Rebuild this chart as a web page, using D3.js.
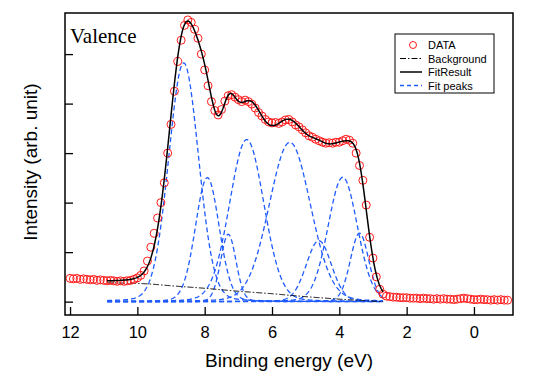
<!DOCTYPE html>
<html>
<head>
<meta charset="utf-8">
<script src="https://cdn.jsdelivr.net/npm/d3@7"></script>
<style>
  body { margin: 0; background: #fff; }
  svg { display: block; }
</style>
</head>
<body>
<svg id="myGraph" width="540" height="382"></svg>
<script>
// measured points (binding energy in eV)
var energy = [
  12.0, 11.9, 11.8, 11.7, 11.6, 11.5, 11.4, 11.3, 11.2, 11.1,
  11.0, 10.9, 10.8, 10.7, 10.6, 10.5, 10.4, 10.3, 10.2, 10.1,
  10.0, 9.9, 9.8, 9.7, 9.6, 9.5, 9.4, 9.3, 9.2, 9.1,
  9.0, 8.9, 8.8, 8.7, 8.6, 8.5, 8.4, 8.3, 8.2, 8.1,
  8.0, 7.9, 7.8, 7.7, 7.6, 7.5, 7.4, 7.3, 7.2, 7.1,
  7.0, 6.9, 6.8, 6.7, 6.6, 6.5, 6.4, 6.3, 6.2, 6.1,
  6.0, 5.9, 5.8, 5.7, 5.6, 5.5, 5.4, 5.3, 5.2, 5.1,
  5.0, 4.9, 4.8, 4.7, 4.6, 4.5, 4.4, 4.3, 4.2, 4.1,
  4.0, 3.9, 3.8, 3.7, 3.6, 3.5, 3.4, 3.3, 3.2, 3.1,
  3.0, 2.9, 2.8, 2.7, 2.6, 2.5, 2.4, 2.3, 2.2, 2.1,
  2.0, 1.9, 1.8, 1.7, 1.6, 1.5, 1.4, 1.3, 1.2, 1.1,
  1.0, 0.9, 0.8, 0.7, 0.6, 0.5, 0.4, 0.3, 0.2, 0.1,
  0.0, -0.1, -0.2, -0.3, -0.4, -0.5, -0.6, -0.7, -0.8, -0.9,
  -1.0
];
var intensity = [
  0.47, 0.46, 0.47, 0.45, 0.46, 0.45, 0.44, 0.45, 0.43, 0.44,
  0.43, 0.42, 0.43, 0.42, 0.41, 0.42, 0.41, 0.42, 0.43, 0.45,
  0.48, 0.53, 0.62, 0.82, 1.10, 1.38, 1.69, 2.00, 2.40, 3.00,
  3.58, 4.25, 4.85, 5.28, 5.58, 5.69, 5.64, 5.50, 5.32, 5.00,
  4.68, 4.36, 4.04, 3.86, 3.77, 3.88, 4.05, 4.16, 4.18, 4.13,
  4.08, 4.04, 4.07, 4.04, 3.99, 3.91, 3.82, 3.75, 3.68, 3.63,
  3.61, 3.62, 3.60, 3.63, 3.67, 3.68, 3.63, 3.57, 3.53, 3.47,
  3.41, 3.35, 3.32, 3.28, 3.25, 3.22, 3.20, 3.21, 3.20, 3.22,
  3.22, 3.25, 3.28, 3.26, 3.20, 3.00, 2.75, 2.45, 1.95, 1.30,
  0.88, 0.50, 0.25, 0.15, 0.11, 0.10, 0.09, 0.09, 0.08, 0.08,
  0.08, 0.07, 0.07, 0.07, 0.06, 0.07, 0.06, 0.06, 0.05, 0.06,
  0.05, 0.06, 0.05, 0.05, 0.04, 0.05, 0.06, 0.07, 0.06, 0.05,
  0.04, 0.04, 0.05, 0.04, 0.04, 0.03, 0.04, 0.03, 0.04, 0.03,
  0.03
];

// fitted peaks (pseudo-voigt): center, height, sigma, lorentz fraction
var peakCenter = [8.624, 7.922, 7.298, 6.751, 5.470, 4.608, 3.898, 3.399];
var peakHeight = [4.823, 2.505, 1.361, 3.273, 3.218, 1.231, 2.512, 1.382];
var peakSigma  = [0.444, 0.353, 0.229, 0.511, 0.616, 0.375, 0.437, 0.275];
var peakEta = 0.091;

// shirley background
var bgEnergy = [10.9, 10.0, 9.5, 9.0, 8.0, 7.0, 6.0, 5.0, 4.0, 3.5, 3.0, 2.7];
var bgValue  = [0.38, 0.37, 0.35, 0.32, 0.27, 0.21, 0.16, 0.10, 0.05, 0.03, 0.01, 0.0];

// fit range
var fitRange = [10.9, 2.7];

var xTicks = [12, 10, 8, 6, 4, 2, 0];
var yTicks = [0, 1, 2, 3, 4, 5];

var svg = d3.select('#myGraph');
var frame = { left: 65, right: 513, top: 13, bottom: 315 };

var x = d3.scaleLinear().domain([12.15, -1.16]).range([frame.left, frame.right]);
var y = d3.scaleLinear().domain([-0.27, 5.83]).range([frame.bottom, frame.top]);

var bg = d3.scaleLinear().domain(bgEnergy).range(bgValue).clamp(true);

// one peak profile at energy e
function peak(e, i) {
  var d = e - peakCenter[i];
  var s = peakSigma[i];
  var g = 1.1774 * s;  // lorentz half width with the same fwhm
  return peakHeight[i] * ((1 - peakEta) * Math.exp(-d * d / (2 * s * s)) +
                          peakEta / (1 + d * d / (g * g)));
}

// sampling grid for the model curves
var grid = d3.range(fitRange[0], fitRange[1] - 0.001, -0.02);

svg.append('clipPath').attr('id', 'clip')
  .append('rect')
  .attr('x', frame.left).attr('y', frame.top)
  .attr('width', frame.right - frame.left).attr('height', frame.bottom - frame.top);

var plot = svg.append('g').attr('clip-path', 'url(#clip)');

var line = d3.line()
  .x(function(d) { return x(d[0]); })
  .y(function(d) { return y(d[1]); });

// fit peaks
peakCenter.forEach(function(c, i) {
  plot.append('path')
    .datum(grid.map(function(e) { return [e, peak(e, i)]; }))
    .attr('d', line)
    .attr('fill', 'none')
    .attr('stroke', '#1f5bff')
    .attr('stroke-width', 1.3)
    .attr('stroke-dasharray', '5,3');
});

// background
plot.append('path')
  .datum(grid.map(function(e) { return [e, bg(e)]; }))
  .attr('d', line)
  .attr('fill', 'none')
  .attr('stroke', '#000')
  .attr('stroke-width', 1)
  .attr('stroke-dasharray', '6,2,1.5,2');

// data circles
plot.selectAll('circle.data')
  .data(energy)
  .enter()
  .append('circle')
  .attr('class', 'data')
  .attr('cx', function(d) { return x(d); })
  .attr('cy', function(d, i) { return y(intensity[i]); })
  .attr('r', 4)
  .attr('fill', 'none')
  .attr('stroke', '#ff1a1a')
  .attr('stroke-width', 1);

// fit result = background + all peaks
plot.append('path')
  .datum(grid.map(function(e) {
    var s = bg(e);
    for (var i = 0; i < peakCenter.length; i++) s += peak(e, i);
    return [e, s];
  }))
  .attr('d', line)
  .attr('fill', 'none')
  .attr('stroke', '#000')
  .attr('stroke-width', 1.5);

// frame
svg.append('rect')
  .attr('x', frame.left).attr('y', frame.top)
  .attr('width', frame.right - frame.left).attr('height', frame.bottom - frame.top)
  .attr('fill', 'none')
  .attr('stroke', '#000')
  .attr('stroke-width', 1.5);

// x axis (ticks inside)
var xAxis = d3.axisBottom(x).tickValues(xTicks).tickSize(-8).tickPadding(11)
  .tickFormat(d3.format('d'));
svg.append('g')
  .attr('transform', 'translate(0,' + frame.bottom + ')')
  .call(xAxis)
  .call(function(g) {
    g.select('.domain').remove();
    g.selectAll('line').attr('stroke', '#000').attr('stroke-width', 1.3);
    g.selectAll('text')
      .attr('font-family', 'Liberation Sans, Arial, sans-serif')
      .attr('font-size', 16.5)
      .attr('fill', '#000');
  });

// y axis (ticks inside, no labels)
var yAxis = d3.axisLeft(y).tickValues(yTicks).tickSize(-8).tickFormat('');
svg.append('g')
  .attr('transform', 'translate(' + frame.left + ',0)')
  .call(yAxis)
  .call(function(g) {
    g.select('.domain').remove();
    g.selectAll('line').attr('stroke', '#000').attr('stroke-width', 1.3);
  });

// axis titles
svg.append('text')
  .attr('x', 289).attr('y', 367)
  .attr('text-anchor', 'middle')
  .attr('font-family', 'Liberation Sans, Arial, sans-serif')
  .attr('font-size', 19)
  .text('Binding energy (eV)');

svg.append('text')
  .attr('transform', 'translate(37,162) rotate(-90)')
  .attr('text-anchor', 'middle')
  .attr('font-family', 'Liberation Sans, Arial, sans-serif')
  .attr('font-size', 19)
  .text('Intensity (arb. unit)');

svg.append('text')
  .attr('x', 70).attr('y', 43)
  .attr('font-family', 'Liberation Serif, Times New Roman, serif')
  .attr('font-size', 21)
  .text('Valence');

// legend
var legend = svg.append('g');
legend.append('rect')
  .attr('x', 395).attr('y', 34).attr('width', 99).attr('height', 59)
  .attr('fill', '#fff').attr('stroke', '#000').attr('stroke-width', 1);

var legendRows = [45, 58.5, 72, 85.5];
var legendText = ['DATA', 'Background', 'FitResult', 'Fit peaks'];

legend.append('circle')
  .attr('cx', 413).attr('cy', legendRows[0]).attr('r', 3.5)
  .attr('fill', 'none').attr('stroke', '#ff1a1a').attr('stroke-width', 1);
legend.append('line')
  .attr('x1', 400).attr('x2', 422).attr('y1', legendRows[1]).attr('y2', legendRows[1])
  .attr('stroke', '#000').attr('stroke-width', 1).attr('stroke-dasharray', '6,2,1.5,2');
legend.append('line')
  .attr('x1', 400).attr('x2', 422).attr('y1', legendRows[2]).attr('y2', legendRows[2])
  .attr('stroke', '#000').attr('stroke-width', 1.5);
legend.append('line')
  .attr('x1', 400).attr('x2', 422).attr('y1', legendRows[3]).attr('y2', legendRows[3])
  .attr('stroke', '#1f5bff').attr('stroke-width', 1.3).attr('stroke-dasharray', '4,3');

legend.selectAll('text')
  .data(legendText)
  .enter()
  .append('text')
  .attr('x', 428)
  .attr('y', function(d, i) { return legendRows[i] + 4; })
  .attr('font-family', 'Liberation Sans, Arial, sans-serif')
  .attr('font-size', 11)
  .text(function(d) { return d; });
</script>
</body>
</html>
